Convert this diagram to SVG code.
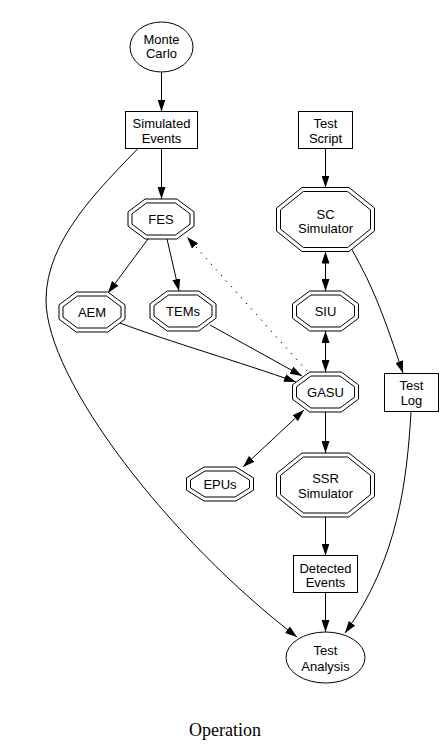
<svg xmlns="http://www.w3.org/2000/svg" width="448" height="752" viewBox="0 0 448 752">
<style>
.shape{fill:#fff;stroke:#000;stroke-width:1}
.lbl{font-family:"Liberation Sans",Arial,sans-serif;font-size:13px;fill:#000;text-anchor:middle}
.edge{fill:none;stroke:#000;stroke-width:1}
.dot{stroke-dasharray:1.5 6}
.title{font-family:"Liberation Serif","Times New Roman",serif;font-size:18px;fill:#000;text-anchor:middle}
</style>
<defs>
<marker id="ah" viewBox="0 0 12 8" refX="12" refY="4" markerWidth="12" markerHeight="8" markerUnits="userSpaceOnUse" orient="auto-start-reverse">
<path d="M0,0 L12,4 L0,8 z" fill="#000"/>
</marker>
</defs>
<rect width="448" height="752" fill="#fff"/>
<g id="edges">
<path class="edge" d="M161.5,72 L161.5,111.5" marker-end="url(#ah)"/>
<path class="edge" d="M161.5,148.5 L161.5,199" marker-end="url(#ah)"/>
<path class="edge" d="M325.5,148.5 L325.5,187.5" marker-end="url(#ah)"/>
<path class="edge" d="M138,148.5 C100,188 46,240 46,300 C46,380 170,540 297,637" marker-end="url(#ah)"/>
<path class="edge" d="M148,239 L108,293" marker-end="url(#ah)"/>
<path class="edge" d="M167,239 L179,291" marker-end="url(#ah)"/>
<path class="edge dot" d="M307,371 L187,237" marker-end="url(#ah)"/>
<path class="edge" d="M120,323 C170,342 240,362 296,382" marker-end="url(#ah)"/>
<path class="edge" d="M210,325 L302,376" marker-end="url(#ah)"/>
<path class="edge" d="M325.5,251.5 L325.5,291" marker-start="url(#ah)" marker-end="url(#ah)"/>
<path class="edge" d="M325.5,331 L325.5,372" marker-start="url(#ah)" marker-end="url(#ah)"/>
<path class="edge" d="M351,248 C375,290 385,320 403,373" marker-end="url(#ah)"/>
<path class="edge" d="M304,410 L243,467" marker-start="url(#ah)" marker-end="url(#ah)"/>
<path class="edge" d="M325.5,412 L325.5,453" marker-end="url(#ah)"/>
<path class="edge" d="M325.5,517 L325.5,555.5" marker-end="url(#ah)"/>
<path class="edge" d="M325.5,592.5 L325.5,632" marker-end="url(#ah)"/>
<path class="edge" d="M411,412 C407,480 398,560 345,633" marker-end="url(#ah)"/>
</g>
<g id="monte_carlo">
<ellipse class="shape" cx="161.5" cy="47" rx="31.5" ry="25"/>
<text class="lbl" x="161.5" y="44">Monte</text>
<text class="lbl" x="161.5" y="58">Carlo</text>
</g>
<g id="simulated_events">
<rect class="shape" x="125.5" y="111.5" width="72" height="37"/>
<text class="lbl" x="161.5" y="128">Simulated</text>
<text class="lbl" x="161.5" y="142.5">Events</text>
</g>
<g id="test_script">
<rect class="shape" x="298.5" y="111.5" width="54" height="37"/>
<text class="lbl" x="325.5" y="128">Test</text>
<text class="lbl" x="325.5" y="142.5">Script</text>
</g>
<g id="fes" transform="translate(161,219)">
<polygon class="shape" points="-33,-7.2 -15.8,-20 15.8,-20 33,-7.2 33,7.2 15.8,20 -15.8,20 -33,7.2"/>
<polygon class="shape" points="-29,-5.2 -14.5,-16 14.5,-16 29,-5.2 29,5.2 14.5,16 -14.5,16 -29,5.2"/>
<text class="lbl" x="0" y="5">FES</text>
</g>
<g id="sc_simulator" transform="translate(325.5,219.5)">
<polygon class="shape" points="-49,-11.5 -23.5,-32 23.5,-32 49,-11.5 49,11.5 23.5,32 -23.5,32 -49,11.5"/>
<polygon class="shape" points="-45,-9.6 -22.1,-28 22.1,-28 45,-9.6 45,9.6 22.1,28 -22.1,28 -45,9.6"/>
<text class="lbl" x="0" y="-0.5">SC</text>
<text class="lbl" x="0" y="13.5">Simulator</text>
</g>
<g id="aem" transform="translate(92,312)">
<polygon class="shape" points="-33,-7.2 -15.8,-20 15.8,-20 33,-7.2 33,7.2 15.8,20 -15.8,20 -33,7.2"/>
<polygon class="shape" points="-29,-5.2 -14.5,-16 14.5,-16 29,-5.2 29,5.2 14.5,16 -14.5,16 -29,5.2"/>
<text class="lbl" x="0" y="5">AEM</text>
</g>
<g id="tems" transform="translate(183,311)">
<polygon class="shape" points="-33,-7.2 -15.8,-20 15.8,-20 33,-7.2 33,7.2 15.8,20 -15.8,20 -33,7.2"/>
<polygon class="shape" points="-29,-5.2 -14.5,-16 14.5,-16 29,-5.2 29,5.2 14.5,16 -14.5,16 -29,5.2"/>
<text class="lbl" x="0" y="5">TEMs</text>
</g>
<g id="siu" transform="translate(325.5,311)">
<polygon class="shape" points="-33,-7.2 -15.8,-20 15.8,-20 33,-7.2 33,7.2 15.8,20 -15.8,20 -33,7.2"/>
<polygon class="shape" points="-29,-5.2 -14.5,-16 14.5,-16 29,-5.2 29,5.2 14.5,16 -14.5,16 -29,5.2"/>
<text class="lbl" x="0" y="5">SIU</text>
</g>
<g id="gasu" transform="translate(325.5,392)">
<polygon class="shape" points="-33,-7.2 -15.8,-20 15.8,-20 33,-7.2 33,7.2 15.8,20 -15.8,20 -33,7.2"/>
<polygon class="shape" points="-29,-5.2 -14.5,-16 14.5,-16 29,-5.2 29,5.2 14.5,16 -14.5,16 -29,5.2"/>
<text class="lbl" x="0" y="5">GASU</text>
</g>
<g id="test_log">
<rect class="shape" x="384.5" y="373.5" width="54" height="38"/>
<text class="lbl" x="411.5" y="390">Test</text>
<text class="lbl" x="411.5" y="405">Log</text>
</g>
<g id="epus" transform="translate(220,484)">
<polygon class="shape" points="-33.5,-6.1 -16.1,-17 16.1,-17 33.5,-6.1 33.5,6.1 16.1,17 -16.1,17 -33.5,6.1"/>
<polygon class="shape" points="-29.5,-3.9 -15,-13 15,-13 29.5,-3.9 29.5,3.9 15,13 -15,13 -29.5,3.9"/>
<text class="lbl" x="0" y="5">EPUs</text>
</g>
<g id="ssr_simulator" transform="translate(325.5,485)">
<polygon class="shape" points="-49,-11.5 -23.5,-32 23.5,-32 49,-11.5 49,11.5 23.5,32 -23.5,32 -49,11.5"/>
<polygon class="shape" points="-45,-9.6 -22.1,-28 22.1,-28 45,-9.6 45,9.6 22.1,28 -22.1,28 -45,9.6"/>
<text class="lbl" x="0" y="-2">SSR</text>
<text class="lbl" x="0" y="12.5">Simulator</text>
</g>
<g id="detected_events">
<rect class="shape" x="293.5" y="555.5" width="64" height="37"/>
<text class="lbl" x="325.5" y="572.5">Detected</text>
<text class="lbl" x="325.5" y="587">Events</text>
</g>
<g id="test_analysis">
<ellipse class="shape" cx="325.5" cy="657.5" rx="39.5" ry="25.5"/>
<text class="lbl" x="325.5" y="655">Test</text>
<text class="lbl" x="325.5" y="671">Analysis</text>
</g>
<text class="title" x="225" y="736">Operation</text>
</svg>
